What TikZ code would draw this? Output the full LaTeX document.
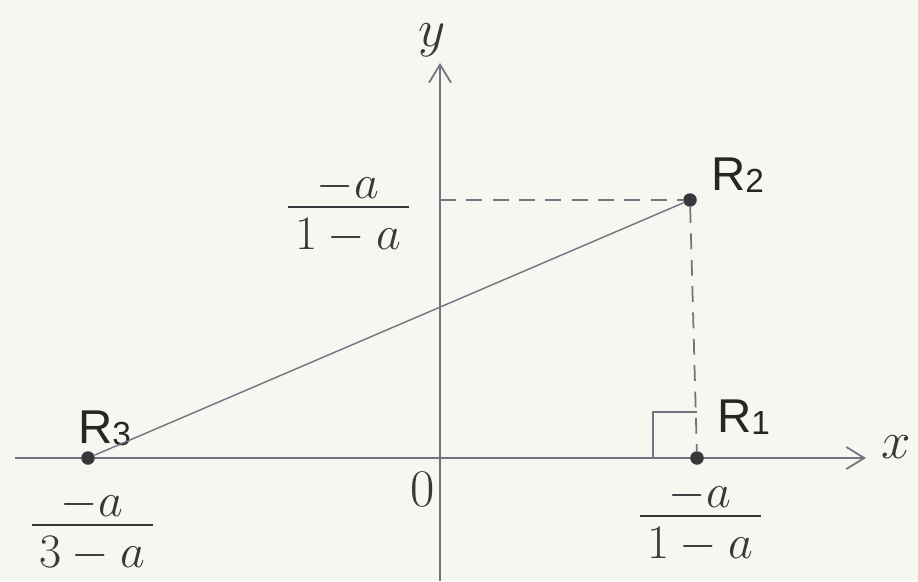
\documentclass[tikz,border=0pt]{standalone}
\usepackage{amsmath}
\usepackage{fontspec}
\newfontfamily\labelfont{Liberation Sans}
\usetikzlibrary{arrows.meta,positioning}
\definecolor{paper}{RGB}{244,248,241}
\definecolor{pen}{RGB}{115,115,130}
\definecolor{ink}{RGB}{55,55,60}
\newcommand{\hfrac}[2]{\setlength{\arrayrulewidth}{1.3pt}%
  \begin{tabular}{@{\hspace{4pt}}c@{\hspace{4pt}}}$#1$\\[-5pt]\hline$#2$\end{tabular}}

\begin{document}
\begin{tikzpicture}[x=0.02cm,y=-0.02cm,>={Straight Barb[length=3.6mm,width=4.4mm]},
  pt/.style={circle,fill=ink,inner sep=0pt,minimum size=0.27cm},
  rlabel/.style={font=\labelfont\fontsize{27}{30}\selectfont,text=black!85},
  frac/.style={font=\Huge,scale=1.1,text=ink,inner sep=0pt},
  axis/.style={draw=pen,line width=1pt}]
\fill[paper] (0,0) rectangle (918,581);
\useasboundingbox (0,0) rectangle (918,581);

% axes
\coordinate (xl) at (15,458);
\coordinate (xr) at (866,458);
\coordinate (yb) at (440,581);
\coordinate (yt) at (440,63);
\coordinate (yc) at (440,200);
\draw[axis,->] (xl) -- (xr);
\draw[axis,->] (yb) -- (yt);
\node[frac,scale=1.1] (xlab) at (896,447) {$x$};
\node[frac,scale=1.1] (ylab) at (432,40) {$y$};
\node[frac,scale=1.1] (o) at (423,489) {0};

% points
\node[pt] (r1) at (697,458) {};
\node[pt] (r2) at (690,200) {};
\node[pt] (r3) at (88,458) {};
\node[rlabel,anchor=west] (n1) at (711,417) {R{\fontsize{19}{20}\selectfont\raisebox{-1pt}{1}}};
\node[rlabel,anchor=west] (n2) at (705,175) {R{\fontsize{19}{20}\selectfont\raisebox{-1pt}{2}}};
\node[rlabel,anchor=west] (n3) at (72,428) {R{\fontsize{19}{20}\selectfont\raisebox{-1pt}{3}}};

\draw[axis,line width=0.8pt] (r3) -- (r2);
\draw[axis,dashed,dash pattern=on 9pt off 6pt] (yc) -- (r2);
\draw[axis,dashed,dash pattern=on 9pt off 6pt] (r2) -- (r1);
\draw[axis,line width=0.8pt] (r1.center) ++(0,-46) -- ++(-44,0) -- ++(0,46);

% values
\node[frac] (f2) at (348,212) {\hfrac{-a}{1-a}};
\node[frac] (f1) at (700,521) {\hfrac{-a}{1-a}};
\node[frac] (f3) at (92,530) {\hfrac{-a}{3-a}};
\end{tikzpicture}
\end{document}
